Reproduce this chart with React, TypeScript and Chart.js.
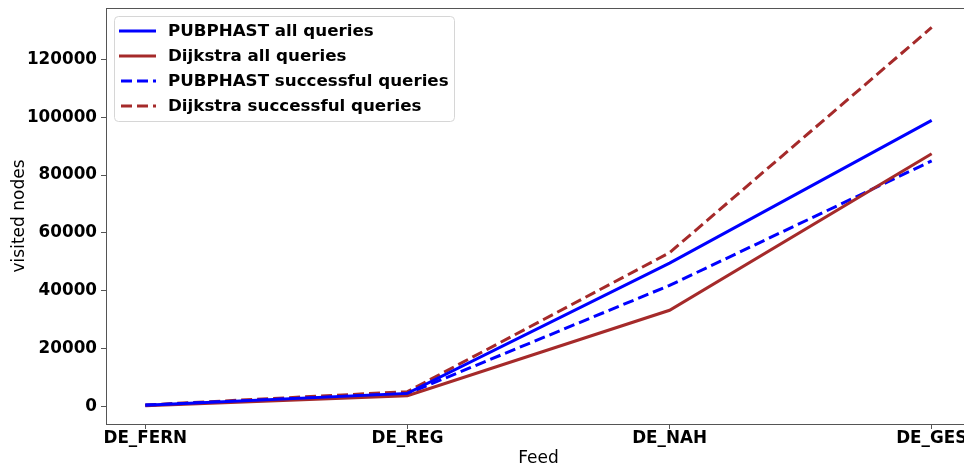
import React, { useEffect, useRef } from "react";
import { Chart, registerables } from "chart.js";

Chart.register(...registerables);

const categories = ["DE_FERN", "DE_REG", "DE_NAH", "DE_GES"];
const pubphastAll = [500, 4600, 49600, 98900];
const dijkstraAll = [300, 3800, 33300, 87400];
const pubphastSuccessful = [550, 4500, 41900, 84900];
const dijkstraSuccessful = [600, 5200, 53200, 131000];
const yTicks = [0, 20000, 40000, 60000, 80000, 100000, 120000];

const BLUE = "#0000ff";
const BROWN = "#a52a2a";
const FONT = "'DejaVu Sans', sans-serif";

function toPoints(values: number[]) {
  return values.map((v, i) => ({ x: i, y: v }));
}

const framePlugin = {
  id: "frame",
  afterDatasetsDraw(chart: any) {
    const { ctx, chartArea } = chart;
    ctx.save();
    ctx.strokeStyle = "#555555";
    ctx.lineWidth = 1;
    ctx.strokeRect(
      Math.round(chartArea.left) + 0.5,
      Math.round(chartArea.top) + 0.5,
      Math.round(chartArea.right - chartArea.left),
      Math.round(chartArea.bottom - chartArea.top)
    );
    // legend
    const bx = 114.5, by = 16.5, bw = 340, bh = 105, r = 4;
    ctx.fillStyle = "rgba(255,255,255,0.8)";
    ctx.strokeStyle = "#d6d6d6";
    ctx.beginPath();
    ctx.moveTo(bx + r, by);
    ctx.lineTo(bx + bw - r, by);
    ctx.quadraticCurveTo(bx + bw, by, bx + bw, by + r);
    ctx.lineTo(bx + bw, by + bh - r);
    ctx.quadraticCurveTo(bx + bw, by + bh, bx + bw - r, by + bh);
    ctx.lineTo(bx + r, by + bh);
    ctx.quadraticCurveTo(bx, by + bh, bx, by + bh - r);
    ctx.lineTo(bx, by + r);
    ctx.quadraticCurveTo(bx, by, bx + r, by);
    ctx.closePath();
    ctx.fill();
    ctx.stroke();
    const rows = [31, 56, 81, 106];
    chart.data.datasets.forEach((ds: any, i: number) => {
      const y = rows[i];
      ctx.strokeStyle = ds.borderColor;
      ctx.lineWidth = 3;
      ctx.setLineDash(ds.borderDash || []);
      ctx.lineDashOffset = 0;
      ctx.beginPath();
      ctx.moveTo(ds.borderDash && ds.borderDash.length ? 121 : 119, y);
      ctx.lineTo(156, y);
      ctx.stroke();
      ctx.setLineDash([]);
      ctx.fillStyle = "#000";
      ctx.font = `bold 16.7px ${FONT}`;
      ctx.textBaseline = "middle";
      ctx.textAlign = "left";
      ctx.fillText(ds.label, 168, y + 1);
    });
    ctx.restore();
  },
};

export default function App() {
  const ref = useRef<HTMLCanvasElement>(null);
  useEffect(() => {
    if (!ref.current) return;
    const mk = (label: string, data: number[], color: string, dash: number[]) => ({
      label,
      data: toPoints(data),
      borderColor: color,
      backgroundColor: color,
      borderWidth: 3,
      borderDash: dash,
      pointRadius: 0,
      tension: 0,
      fill: false,
    });
    const chart = new Chart(ref.current, {
      type: "line",
      data: {
        datasets: [
          mk("PUBPHAST all queries", pubphastAll, BLUE, []),
          mk("Dijkstra all queries", dijkstraAll, BROWN, []),
          mk("PUBPHAST successful queries", pubphastSuccessful, BLUE, [11, 5]),
          mk("Dijkstra successful queries", dijkstraSuccessful, BROWN, [11, 5]),
        ],
      },
      plugins: [framePlugin],
      options: {
        animation: false,
        responsive: false,
        maintainAspectRatio: false,
        layout: { padding: { left: 0, top: 8, right: 9, bottom: 0 } },
        plugins: { legend: { display: false }, tooltip: { enabled: false } },
        scales: {
          x: {
            type: "linear",
            min: -0.15,
            max: 3.15,
            afterBuildTicks: (axis: any) => {
              axis.ticks = categories.map((_, i) => ({ value: i }));
            },
            afterFit: (axis: any) => {
              axis.height = 42;
              axis.paddingLeft = 0;
              axis.paddingRight = 0;
            },
            ticks: {
              callback: (v: any) => categories[Math.round(Number(v))] ?? "",
              color: "#000",
              font: { family: FONT, size: 16.8, weight: "bold" },
              padding: 0,
              maxRotation: 0,
              autoSkip: false,
            },
            grid: { display: true, drawOnChartArea: false, drawTicks: true, tickLength: 5, color: "#555" },
            border: { display: false },
            title: {
              display: true,
              text: "Feed",
              color: "#000",
              font: { family: FONT, size: 17 },
              padding: { top: 0, bottom: -3 },
            },
          },
          y: {
            type: "linear",
            min: -5976,
            max: 137720,
            afterBuildTicks: (axis: any) => {
              axis.ticks = yTicks.map((v) => ({ value: v }));
            },
            afterFit: (axis: any) => {
              axis.width = 106;
              axis.paddingTop = 0;
              axis.paddingBottom = 0;
            },
            ticks: {
              callback: (v: any) => String(v),
              color: "#000",
              font: { family: FONT, size: 16.8, weight: "bold" },
              padding: 4,
            },
            grid: { display: true, drawOnChartArea: false, drawTicks: true, tickLength: 5, color: "#555" },
            border: { display: false },
            title: {
              display: true,
              text: "visited nodes",
              color: "#000",
              font: { family: FONT, size: 17 },
              padding: { top: 9, bottom: 0 },
            },
          },
        },
      } as any,
    });
    return () => chart.destroy();
  }, []);
  return (
    <div
      style={{
        position: "fixed",
        left: 0,
        top: 0,
        width: 964,
        height: 466,
        overflow: "hidden",
        background: "#fff",
      }}
    >
      <canvas ref={ref} width={980} height={466} style={{ width: 980, height: 466, display: "block" }} />
    </div>
  );
}
